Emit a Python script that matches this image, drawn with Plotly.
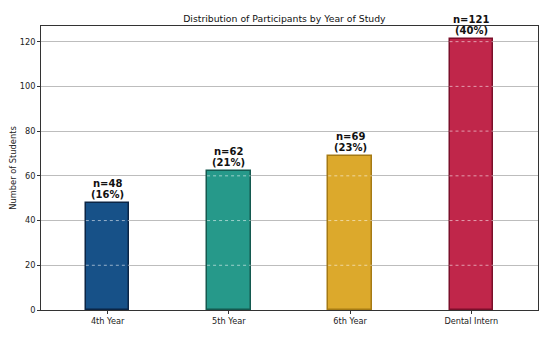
import plotly.graph_objects as go

categories = ["4th Year", "5th Year", "6th Year", "Dental Intern"]
counts = [48, 62, 69, 121]
pct_labels = ["16%", "21%", "23%", "40%"]
fill_colors = ["#175188", "#26998a", "#dca92c", "#c0264a"]
edge_colors = ["#0b2545", "#14594f", "#a57a14", "#7a0f2a"]
y_ticks = [0, 20, 40, 60, 80, 100, 120]

bar_width = 0.36
x_idx = list(range(len(categories)))

fig = go.Figure()
fig.add_trace(go.Bar(
    x=x_idx, y=counts, width=bar_width,
    marker=dict(color=fill_colors, line=dict(color=edge_colors, width=1.5)),
    hoverinfo="skip", showlegend=False, cliponaxis=False,
))

# labels (two lines, tight line spacing)
lab_font = dict(family="DejaVu Sans", size=10, color="#111")
for i, (c, p) in enumerate(zip(counts, pct_labels)):
    fig.add_annotation(x=i, y=c, text=f"<b>({p})</b>", showarrow=False,
                       yanchor="bottom", yshift=1, font=lab_font)
    fig.add_annotation(x=i, y=c, text=f"<b>n={c}</b>", showarrow=False,
                       yanchor="bottom", yshift=12, font=lab_font)

# dashed grid visible over bars
for i, c in enumerate(counts):
    for t in y_ticks[1:]:
        if t < c:
            fig.add_shape(type="line", xref="x", yref="y",
                          x0=i - bar_width / 2, x1=i + bar_width / 2, y0=t, y1=t,
                          line=dict(color="rgba(255,255,255,0.55)", width=1, dash="dot"),
                          layer="above")

# page body has an 8px default margin, so the figure is shrunk by 8px
fig.update_layout(
    width=542, height=329,
    margin=dict(l=33, r=12, t=18, b=27, autoexpand=False),
    paper_bgcolor="#ffffff", plot_bgcolor="#ffffff",
    font=dict(family="DejaVu Sans", size=8.2, color="#222"),
    title=dict(text="Distribution of Participants by Year of Study",
               x=0.51, xanchor="center", y=0.967, yanchor="middle",
               font=dict(size=9.3, color="#111")),
    bargap=0,
)
fig.update_xaxes(
    tickmode="array", tickvals=x_idx, ticktext=categories,
    range=[-0.55, 3.55], showgrid=False, automargin=False,
    showline=True, linecolor="#333", linewidth=1, mirror=True,
    ticks="outside", ticklen=3, tickcolor="#333", zeroline=False,
)
fig.update_yaxes(
    tickmode="array", tickvals=y_ticks, range=[0, 127], automargin=False,
    showgrid=True, gridcolor="#bdbdbd", gridwidth=1,
    showline=True, linecolor="#333", linewidth=1, mirror=True,
    ticks="outside", ticklen=3, tickcolor="#333", zeroline=False,
    title=dict(text="Number of Students", standoff=8, font=dict(size=8.3)),
)

fig.write_html("out.html")
